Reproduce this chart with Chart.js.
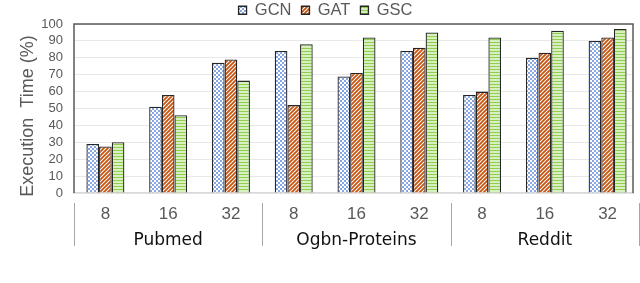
<!DOCTYPE html>
<html><head><meta charset="utf-8">
<script src="https://cdn.jsdelivr.net/npm/chart.js@4/dist/chart.umd.min.js"></script>
<style>html,body{margin:0;padding:0;background:#fff;}canvas{display:block;}</style>
</head><body>
<canvas id="c" width="640" height="283"></canvas>
<script>
const groupNames = ["Pubmed", "Ogbn-Proteins", "Reddit"];
const sizes = ["8", "16", "32"];
const categories = ["8","16","32","8","16","32","8","16","32"];
const gcn = [29, 51, 77, 84, 69, 84, 58, 80, 90];
const gat = [27.5, 58, 79, 52, 71, 86, 60, 83, 92];
const gsc = [30, 46, 66.5, 88, 92, 95, 92, 96, 97];
const yTicks = [0,10,20,30,40,50,60,70,80,90,100];

function pat(type){
  const c = document.createElement('canvas');
  const x = c.getContext('2d');
  if(type==='gcn'){
    c.width=4;c.height=4;
    x.fillStyle='#ffffff';x.fillRect(0,0,4,4);
    x.fillStyle='#88a7e0';x.fillRect(0,0,2,2);x.fillRect(2,2,2,2);
  } else if(type==='gat'){
    c.width=4;c.height=4;
    x.fillStyle='#ffffff';x.fillRect(0,0,4,4);
    x.strokeStyle='#c8520e';x.lineWidth=1.8;
    x.beginPath();
    x.moveTo(-1,5);x.lineTo(5,-1);
    x.moveTo(-1,1);x.lineTo(1,-1);
    x.moveTo(3,5);x.lineTo(5,3);
    x.stroke();
  } else {
    c.width=3;c.height=3;
    x.fillStyle='#d8efc2';x.fillRect(0,0,3,3);
    x.fillStyle='#8fcf4c';x.fillRect(0,0,3,1);
  }
  return x.createPattern(c,'repeat');
}

const F = "'Liberation Sans', Arial, sans-serif";
const GRAY = '#595959';

const decor = {
  id:'decor',
  afterInit(chart){
    const lg = chart.legend;
    if(lg){
      const orig = lg.fit.bind(lg);
      lg.fit = function(){ orig(); this.height = 24; this.bottom = this.top + 24; };
      const od = lg.draw.bind(lg);
      lg.draw = function(){ const c=this.ctx; c.save(); c.translate(6,-8); od(); c.restore(); };
    }
  },
  beforeDatasetsDraw(chart){
    const ctx = chart.ctx, a = chart.chartArea;
    ctx.save();
    ctx.fillStyle='#ffffff';
    ctx.fillRect(634, a.top-3, 10, a.bottom-a.top+6);
    ctx.restore();
  },
  afterDraw(chart){
    const ctx = chart.ctx, a = chart.chartArea, xs = chart.scales.x;
    ctx.save();
    ctx.strokeStyle='#595959'; ctx.lineWidth=1.5;
    ctx.beginPath();
    ctx.moveTo(a.left, a.bottom); ctx.lineTo(a.left, a.top); ctx.lineTo(633, a.top); ctx.lineTo(633, a.bottom);
    ctx.stroke();
    ctx.strokeStyle='#a6a6a6'; ctx.lineWidth=1;
    const n = categories.length;
    const bounds = [xs.left];
    for(let i=3;i<n;i+=3){ bounds.push((xs.getPixelForValue(i-1)+xs.getPixelForValue(i))/2); }
    bounds.push(xs.right);
    ctx.beginPath();
    bounds.forEach(b=>{ const px=Math.round(b)+0.5; ctx.moveTo(px,203); ctx.lineTo(px,246); });
    ctx.stroke();
    ctx.fillStyle='#111111';
    ctx.font = "17px 'DejaVu Sans', Verdana, sans-serif";
    ctx.textAlign='center'; ctx.textBaseline='alphabetic';
    groupNames.forEach((g,gi)=>{
      const cx = (xs.getPixelForValue(gi*3)+xs.getPixelForValue(gi*3+2))/2;
      ctx.fillText(g, cx, 245);
    });
    ctx.restore();
  }
};

const mk = (label, data, p) => ({label, data, backgroundColor:p, borderColor:'#262626', borderWidth:1.3,
  categoryPercentage:0.605, barPercentage:1.0});

new Chart(document.getElementById('c'), {
  type:'bar',
  data:{ labels:categories, datasets:[ mk('GCN',gcn,pat('gcn')), mk('GAT',gat,pat('gat')), mk('GSC',gsc,pat('gsc')) ] },
  options:{
    responsive:false, animation:false, devicePixelRatio:1,
    layout:{padding:{top:0,right:1,left:0,bottom:0}},
    plugins:{
      legend:{ position:'top', align:'center',
        labels:{ boxWidth:8, boxHeight:8, padding:10, color:GRAY, font:{family:F,size:16.5} } },
      tooltip:{enabled:false}
    },
    scales:{
      x:{ grid:{display:false, drawTicks:false}, border:{color:'#d9d9d9', width:1.5},
        ticks:{ color:GRAY, font:{family:F,size:17}, padding:11, maxRotation:0 },
        afterFit(s){ s.height = 90; } },
      y:{ min:0, max:100, afterBuildTicks(s){ s.ticks = yTicks.map(v=>({value:v})); },
        grid:{ color:'#e8e8e8', drawTicks:false }, border:{display:false},
        ticks:{ color:GRAY, font:{family:F,size:13}, padding:11, autoSkip:false },
        title:{ display:true, text:'Execution  Time (%)   ', color:GRAY, font:{family:F,size:18}, padding:{top:17,bottom:0} },
        afterFit(s){ s.width = 74; } }
    }
  },
  plugins:[decor]
});
</script>
</body></html>
